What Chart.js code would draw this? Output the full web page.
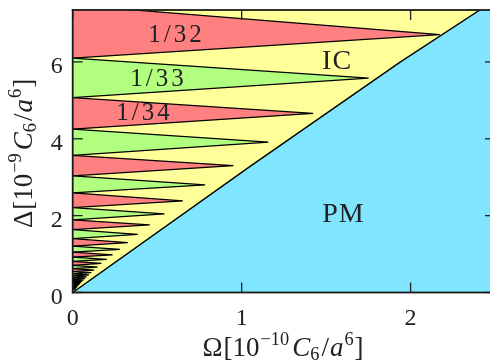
<!DOCTYPE html>
<html>
<head>
<meta charset="utf-8">
<script src="https://cdn.jsdelivr.net/npm/chart.js@4.4.1/dist/chart.umd.min.js"></script>
<style>
  html, body { margin: 0; padding: 0; background: #ffffff; }
  #wrap { width: 490px; height: 361px; }
</style>
</head>
<body>
<div id="wrap"><canvas id="c" width="490" height="361"></canvas></div>
<script>
// ---- data ----
const plateauDenominators = [32,33,34,35,36,37,38,39,40,41,42,43,44,45,46,47,48,49,50,51,52,53,54,55,56,57,58,59,60,61,62,63,64,65,66];
const tipOmega = [2.173,1.752,1.423,1.158,0.951,0.784,0.652,0.543,0.456,0.385,0.326,0.279,0.236,0.202,0.170,0.147,0.127,0.110,0.096,0.083,0.073,0.064,0.056,0.049,0.043,0.038,0.034,0.030,0.027,0.024,0.0215,0.0193,0.0173,0.0155,0.014];
const tipDelta = [6.71,5.58,4.66,3.91,3.30,2.80,2.385,2.045,1.757,1.51,1.297,1.125,0.982,0.862,0.758,0.663,0.580,0.515,0.458,0.408,0.363,0.324,0.290,0.260,0.234,0.210,0.189,0.171,0.154,0.139,0.126,0.114,0.103,0.094,0.085];
const edgeDelta = [7.48,6.10,5.07,4.25,3.57,3.035,2.59,2.21,1.89,1.635,1.40,1.205,1.048,0.918,0.808,0.708,0.618,0.545,0.485,0.432,0.384,0.343,0.307,0.274,0.247,0.222,0.199,0.180,0.162,0.146,0.132,0.120,0.108,0.098,0.089,0.080];
const pmOmega = [0, 1.05, 1.94, 2.41];
const pmDelta = [0, 3.28, 6.00, 7.35];
const xTicks = [0, 1, 2];
const yTicks = [0, 2, 4, 6];
const xMax = 2.47, yMax = 7.35;
const regionLabels = ['1/32', '1/33', '1/34', 'IC', 'PM'];
const regionOmega = [0.605, 0.499, 0.416, 1.562, 1.600];
const regionDelta = [6.74, 5.60, 4.69, 6.06, 2.08];

// ---- styles ----
const RED = 'rgb(255,128,128)';
const GREEN = 'rgb(178,255,128)';
const YELLOW = 'rgb(255,255,153)';
const BLUE = 'rgb(128,229,255)';
const INK = '#222222';
const SERIF = '"Liberation Serif", "DejaVu Serif", serif';

const pmLine = pmOmega.map((x, i) => ({x, y: pmDelta[i]}));

const datasets = [];
datasets.push({
  data: [...pmLine, {x: 0, y: yMax}],
  showLine: true, fill: 'shape', backgroundColor: YELLOW,
  borderWidth: 0, pointRadius: 0, order: 200
});
datasets.push({
  data: [...pmLine, {x: xMax, y: yMax}, {x: xMax, y: 0}],
  showLine: true, fill: 'shape', backgroundColor: BLUE,
  borderWidth: 0, pointRadius: 0, order: 199
});
plateauDenominators.forEach((n, i) => {
  datasets.push({
    label: '1/' + n,
    data: [{x: 0, y: edgeDelta[i]}, {x: tipOmega[i], y: tipDelta[i]}, {x: 0, y: edgeDelta[i + 1]}],
    showLine: true, fill: 'shape',
    backgroundColor: i % 2 === 0 ? RED : GREEN,
    borderColor: '#000000', borderWidth: 1.25,
    pointRadius: 0, order: 100 - i
  });
});
datasets.push({
  data: pmLine, showLine: true, fill: false,
  borderColor: '#000000', borderWidth: 1.4, pointRadius: 0, order: 0
});

function drawRich(ctx, segs, base, x, y, rotate) {
  ctx.save();
  ctx.translate(x, y);
  if (rotate) ctx.rotate(-Math.PI / 2);
  let total = 0;
  const items = segs.map(s => {
    const size = base * (s.s || 1);
    const font = (s.it ? 'italic ' : '') + size + 'px ' + SERIF;
    ctx.font = font;
    const w = ctx.measureText(s.t).width + (s.g || 0);
    total += w;
    return {s, font, w};
  });
  let cx = -total / 2;
  ctx.textBaseline = 'alphabetic';
  ctx.textAlign = 'left';
  ctx.fillStyle = INK;
  items.forEach(it => {
    ctx.font = it.font;
    ctx.fillText(it.s.t, cx, (it.s.dy || 0) * base);
    cx += it.w;
  });
  ctx.restore();
}

const decorPlugin = {
  id: 'decor',
  afterDraw(chart) {
    const ctx = chart.ctx;
    const a = chart.chartArea;
    const x = chart.scales.x, y = chart.scales.y;
    const left = a.left, right = a.right, top = a.top, bottom = a.bottom;
    ctx.save();
    ctx.fillStyle = INK;
    const tl = 10, tr = 5, tw = 1.3;
    xTicks.forEach(v => {
      const px = x.getPixelForValue(v);
      ctx.fillRect(px - tw / 2, bottom - tl, tw, tl);
      ctx.fillRect(px - tw / 2, top, tw, tl);
    });
    yTicks.forEach(v => {
      const py = y.getPixelForValue(v);
      ctx.fillRect(left, py - tw / 2, tl, tw);
      ctx.fillRect(right - tr, py - tw / 2, tr, tw);
    });
    // frame (right side lies just past the picture edge)
    const fw = 1.8;
    ctx.fillStyle = '#1a1a1a';
    ctx.fillRect(left - fw / 2, top - fw / 2, right - left + fw, fw);
    ctx.fillRect(left - fw / 2, bottom - fw / 2, right - left + fw, fw);
    ctx.fillRect(left - fw / 2, top - fw / 2, fw, bottom - top + fw);
    // region labels
    ctx.fillStyle = INK;
    ctx.textAlign = 'center';
    ctx.textBaseline = 'alphabetic';
    regionLabels.forEach((lab, i) => {
      const px = x.getPixelForValue(regionOmega[i]);
      const py = y.getPixelForValue(regionDelta[i]);
      const isFrac = lab.indexOf('/') >= 0;
      const size = isFrac ? 25 : 28;
      ctx.font = size + 'px ' + SERIF;
      ctx.letterSpacing = isFrac ? '3px' : '1px';
      ctx.fillText(lab, px + (isFrac ? 1.5 : 0.5), py + 0.33 * size);
    });
    ctx.letterSpacing = '0px';
    ctx.restore();
    drawRich(ctx, [
      {t: 'Ω', g: 1}, {t: '[10', g: 1}, {t: '−10', s: 0.68, dy: -0.4, g: 3},
      {t: 'C', it: true}, {t: '6', s: 0.68, dy: 0.15, g: 2}, {t: '/', g: 1},
      {t: 'a', it: true, g: 1}, {t: '6', s: 0.68, dy: -0.4, g: 1}, {t: ']'}
    ], 27, 283, 356, false);
    drawRich(ctx, [
      {t: 'Δ', g: 1}, {t: '[10', g: 1}, {t: '−9', s: 0.68, dy: -0.4, g: 3},
      {t: 'C', it: true}, {t: '6', s: 0.68, dy: 0.15, g: 2}, {t: '/', g: 1},
      {t: 'a', it: true, g: 1}, {t: '6', s: 0.68, dy: -0.4, g: 1}, {t: ']'}
    ], 27, 32, 153.5, true);
  }
};

new Chart(document.getElementById('c'), {
  type: 'scatter',
  data: {datasets},
  options: {
    responsive: false,
    animation: false,
    events: [],
    layout: {padding: {top: 10, right: 0, left: 0, bottom: 0}},
    plugins: {legend: {display: false}, tooltip: {enabled: false}},
    scales: {
      x: {
        type: 'linear', min: 0, max: xMax,
        afterBuildTicks: s => { s.ticks = xTicks.map(v => ({value: v})); },
        ticks: {font: {family: SERIF, size: 24}, color: INK, padding: 12, maxRotation: 0, autoSkip: false, callback: v => String(v)},
        grid: {display: false, drawTicks: false},
        border: {display: false},
        afterFit: s => { s.height = 68.5; s.paddingLeft = 0; s.paddingRight = 0; }
      },
      y: {
        type: 'linear', min: 0, max: yMax,
        afterBuildTicks: s => { s.ticks = yTicks.map(v => ({value: v})); },
        ticks: {font: {family: SERIF, size: 24}, color: INK, padding: 10, labelOffset: 5, autoSkip: false, callback: v => String(v)},
        grid: {display: false, drawTicks: false},
        border: {display: false},
        afterFit: s => { s.width = 72.7; s.paddingTop = 0; s.paddingBottom = 0; }
      }
    }
  },
  plugins: [decorPlugin]
});
</script>
</body>
</html>
